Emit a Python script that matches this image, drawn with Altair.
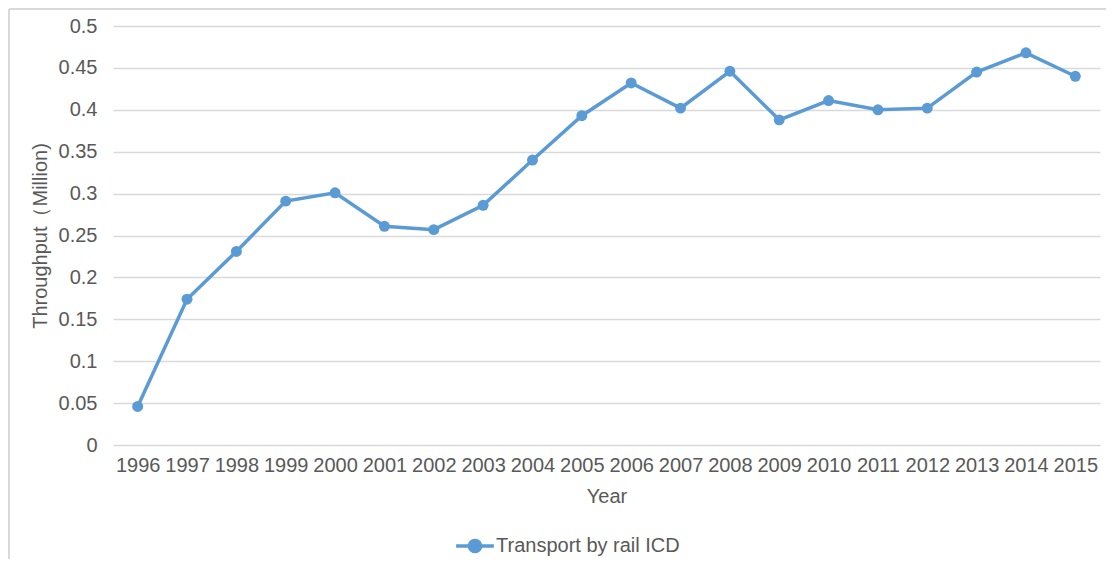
import altair as alt
import pandas as pd

years = ["1996", "1997", "1998", "1999", "2000", "2001", "2002", "2003", "2004", "2005",
         "2006", "2007", "2008", "2009", "2010", "2011", "2012", "2013", "2014", "2015"]
throughput = [0.046, 0.174, 0.231, 0.291, 0.301, 0.261, 0.257, 0.286, 0.340, 0.393,
              0.432, 0.402, 0.446, 0.388, 0.411, 0.400, 0.402, 0.445, 0.468, 0.440]
series_name = "Transport by rail ICD"
y_ticks = [0, 0.05, 0.1, 0.15, 0.2, 0.25, 0.3, 0.35, 0.4, 0.45, 0.5]

df = pd.DataFrame({"Year": years, "Throughput": throughput, "Series": series_name})

FONT = "Liberation Sans"
TXT = "#595959"
BLUE = "#5B9BD5"
GRID = "#D9D9D9"
FS = 20

base = alt.Chart(df)

line = base.mark_line(
    strokeWidth=3.5,
    point=alt.OverlayMarkDef(filled=True, size=120, color=BLUE, opacity=1),
).encode(
    x=alt.X("Year:O", sort=years,
            scale=alt.Scale(type="point", padding=0.5),
            axis=alt.Axis(title="Year", labelAngle=0, grid=False, domain=False, ticks=False,
                          labelPadding=10, titlePadding=11)),
    y=alt.Y("Throughput:Q",
            scale=alt.Scale(domain=[0, 0.5], nice=False),
            axis=alt.Axis(title="Throughput（Million)", values=y_ticks, format=".2~f",
                          grid=True, gridColor=GRID, gridWidth=1.3, domain=False, ticks=False,
                          labelPadding=16, titlePadding=8)),
    color=alt.Color("Series:N", scale=alt.Scale(range=[BLUE]),
                    legend=alt.Legend(
                        title=None, orient="none", legendX=349, legendY=507, padding=0,
                        symbolType="M-1.7,0 L1.7,0 M-0.5,0 A0.5,0.5 0 1,0 0.5,0 A0.5,0.5 0 1,0 -0.5,0 Z",
                        symbolSize=492, symbolStrokeWidth=3.5, symbolFillColor=BLUE,
                        symbolStrokeColor=BLUE, labelOffset=8,
                        labelFont=FONT, labelFontSize=FS, labelColor=TXT, labelLimit=400)),
)

frame = alt.Chart(alt.Data(values=[{}]))
top_border = frame.mark_rule(color=GRID, strokeWidth=2).encode(
    x=alt.value(-104), x2=alt.value(1000), y=alt.value(-17))
left_border = frame.mark_rule(color=GRID, strokeWidth=2).encode(
    x=alt.value(-104), y=alt.value(-17), y2=alt.value(560))

chart = alt.layer(top_border, left_border, line).properties(
    width=987, height=419,
    autosize=alt.AutoSizeParams(type="none"),
    padding={"left": 105, "top": 18, "right": 6, "bottom": 114},
).configure_view(stroke=None).configure_axis(
    labelFont=FONT, labelFontSize=FS, labelColor=TXT,
    titleFont=FONT, titleFontSize=FS, titleColor=TXT, titleFontWeight="normal",
)

chart.save("out.html", embed_options={"renderer": "svg", "actions": False})
